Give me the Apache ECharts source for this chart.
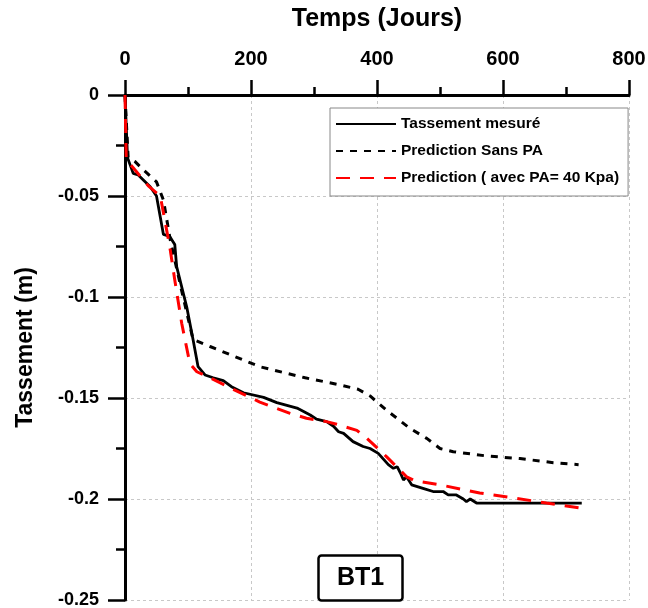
<!DOCTYPE html>
<html><head><meta charset="utf-8">
<script src="https://cdn.jsdelivr.net/npm/echarts@6/dist/echarts.min.js"></script>
<style>html,body{margin:0;padding:0;background:#fff}#c{width:648px;height:608px}</style>
</head><body><div id="c"></div>
<script>
const xTicks = [0, 200, 400, 600, 800];
const seriesNames = ['Tassement mesuré', 'Prediction Sans PA', 'Prediction ( avec PA= 40 Kpa)'];

const measX = [0,4,13,21,40,50,61,71,79,82,98,108,116,127,140,156,169,188,220,241,273,294,304,320,331,339,347,362,378,389,402,418,426,432,437,442,447,455,473,489,505,513,526,537,542,548,558,725];
const measY = [0,-0.031,-0.0388,-0.0396,-0.0454,-0.050,-0.069,-0.070,-0.074,-0.085,-0.105,-0.121,-0.1345,-0.1386,-0.140,-0.1414,-0.1444,-0.1474,-0.1497,-0.1523,-0.155,-0.1584,-0.1605,-0.1617,-0.164,-0.1667,-0.1675,-0.1716,-0.174,-0.175,-0.1774,-0.183,-0.1848,-0.184,-0.187,-0.1906,-0.189,-0.193,-0.1947,-0.1963,-0.1963,-0.198,-0.198,-0.200,-0.2013,-0.200,-0.202,-0.202];

const sansX = [0,5,16,29,50,61,72,90,108,135,214,286,341,370,389,415,452,479,500,521,574,627,680,720];
const sansY = [0,-0.031,-0.033,-0.037,-0.043,-0.052,-0.072,-0.097,-0.121,-0.1245,-0.1345,-0.140,-0.1435,-0.1457,-0.149,-0.156,-0.165,-0.170,-0.175,-0.1766,-0.1787,-0.180,-0.182,-0.183];

const avecX = [0,2,13,37,56,71,79,90,103,114,135,167,214,262,288,320,336,368,384,415,447,460,500,563,622,669,725];
const avecY = [0,-0.032,-0.036,-0.045,-0.050,-0.075,-0.0916,-0.113,-0.133,-0.137,-0.140,-0.145,-0.152,-0.1576,-0.160,-0.1617,-0.163,-0.166,-0.170,-0.179,-0.189,-0.191,-0.193,-0.197,-0.1997,-0.202,-0.2046];

const pairs = (xs, ys) => xs.map((x, i) => [x, ys[i]]);
const FONT = '"Liberation Sans", Arial, sans-serif';

const chart = echarts.init(document.getElementById('c'), null, {renderer: 'canvas'});
chart.setOption({
  animation: false,
  backgroundColor: '#fff',
  grid: {left: 125, top: 95, right: 19, bottom: 8, containLabel: false, outerBoundsMode: 'none'},
  title: {
    text: 'BT1', left: 318, top: 555,
    padding: [11, 19, 10, 19],
    borderColor: '#000', borderWidth: 2.5, borderRadius: 3, backgroundColor: '#fff',
    textStyle: {fontFamily: FONT, fontWeight: 'bold', fontSize: 25, color: '#000'}
  },
  legend: {
    orient: 'vertical', left: 330, top: 108,
    padding: [8, 9, 10, 5],
    itemWidth: 60, itemHeight: 16, itemGap: 11,
    backgroundColor: '#fff', borderColor: '#888', borderWidth: 1,
    itemStyle: {opacity: 0},
    textStyle: {fontFamily: FONT, fontWeight: 'bold', fontSize: 15.5, color: '#000'},
    data: seriesNames
  },
  xAxis: {
    type: 'value', position: 'top', min: xTicks[0], max: xTicks[xTicks.length-1], interval: 200,
    name: 'Temps (Jours)', nameLocation: 'middle', nameGap: 63,
    nameTextStyle: {fontFamily: FONT, fontWeight: 'bold', fontSize: 25, color: '#000'},
    axisLine: {show: true, onZero: false, lineStyle: {color: '#000', width: 3}},
    axisTick: {show: true, inside: false, length: 15, lineStyle: {color: '#000', width: 2.5}},
    minorTick: {show: true, splitNumber: 2, length: 8, lineStyle: {color: '#000', width: 2.5}},
    axisLabel: {margin: 26, fontFamily: FONT, fontWeight: 'bold', fontSize: 20, color: '#000'},
    splitLine: {show: true, lineStyle: {color: '#c8c8c8', type: [3, 3], width: 1}}
  },
  yAxis: {
    type: 'value', min: -0.25, max: 0, interval: 0.05,
    name: 'Tassement (m)', nameLocation: 'middle', nameGap: 88,
    nameTextStyle: {fontFamily: FONT, fontWeight: 'bold', fontSize: 23, color: '#000'},
    axisLine: {show: true, onZero: false, lineStyle: {color: '#000', width: 3}},
    axisTick: {show: true, inside: false, length: 17, lineStyle: {color: '#000', width: 2.5}},
    minorTick: {show: true, splitNumber: 2, length: 9, lineStyle: {color: '#000', width: 2.5}},
    axisLabel: {margin: 26, fontFamily: FONT, fontWeight: 'bold', fontSize: 18, color: '#000',
      formatter: v => (Math.abs(v) < 1e-9 ? '0' : String(+v.toFixed(3)))},
    splitLine: {show: true, lineStyle: {color: '#c8c8c8', type: [3, 3], width: 1}}
  },
  series: [
    {name: seriesNames[0], type: 'line', data: pairs(measX, measY), symbol: 'none', z: 3,
     lineStyle: {color: '#000', width: 2.8}, itemStyle: {color: '#000'}},
    {name: seriesNames[1], type: 'line', data: pairs(sansX, sansY), symbol: 'none', z: 2,
     lineStyle: {color: '#000', width: 3, type: [7, 7]}, itemStyle: {color: '#000'}},
    {name: seriesNames[2], type: 'line', data: pairs(avecX, avecY), symbol: 'none', z: 4,
     lineStyle: {color: '#ff0000', width: 3, type: [14, 10]}, itemStyle: {color: '#ff0000'}}
  ]
});
</script></body></html>
